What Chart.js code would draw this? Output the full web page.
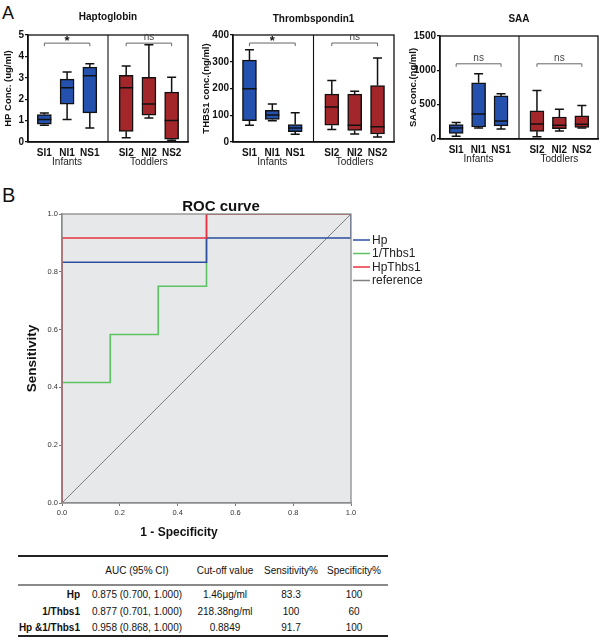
<!DOCTYPE html>
<html>
<head>
<meta charset="utf-8">
<script src="https://cdn.jsdelivr.net/npm/chart.js@4.4.1/dist/chart.umd.min.js"></script>
<style>
  body { margin: 0; background: #fff; font-family: "Liberation Sans", Arial, sans-serif; }
  #page { position: relative; width: 600px; height: 642px; overflow: hidden; }
  #page canvas { position: absolute; }
  .panel-letter { position: absolute; line-height: 1; color: #111; }
  #stats { position: absolute; left: 18px; top: 555px; width: 370px; border-collapse: collapse;
           table-layout: fixed; font-size: 10px; color: #111; border-top: 2px solid #222; border-bottom: 2px solid #222; }
  #stats th { font-weight: normal; height: 27px; padding: 0; text-align: center; border-bottom: 2px solid #8a8a8a; }
  #stats td { padding: 0; text-align: center; line-height: 1; }
  #stats td.rowname { text-align: right; padding-right: 6px; font-weight: bold; }
</style>
</head>
<body>
<div id="page">
  <div class="panel-letter" style="left:2px;top:4px;font-size:18px">A</div>
  <div class="panel-letter" style="left:2px;top:185px;font-size:20px">B</div>
  <canvas id="hp-chart" style="left:0;top:0"></canvas>
  <canvas id="thbs-chart" style="left:195px;top:0"></canvas>
  <canvas id="saa-chart" style="left:400px;top:0"></canvas>
  <canvas id="roc-chart" style="left:0;top:195px"></canvas>
  <table id="stats"></table>
</div>
<script>
// ---- panel A data: five-number summaries per group ----
const groups = ['SI1', 'NI1', 'NS1', 'SI2', 'NI2', 'NS2'];
const cohorts = ['Infants', 'Toddlers'];

const hpMin = [0.78, 1.05, 0.66, 0.20, 1.12, 0.08];
const hpQ1  = [0.83, 1.77, 1.36, 0.50, 1.25, 0.13];
const hpMed = [1.05, 2.53, 3.09, 2.53, 1.77, 1.00];
const hpQ3  = [1.28, 2.94, 3.50, 3.11, 3.02, 2.33];
const hpMax = [1.36, 3.27, 3.66, 3.55, 4.55, 3.03];
const hpSig = ['*', 'ns'];

const thbsMin = [63, 79, 29, 47, 30, 19];
const thbsQ1  = [80, 84, 39, 63, 43, 30];
const thbsMed = [199, 101, 52, 131, 63, 57];
const thbsQ3  = [306, 118, 65, 179, 179, 211];
const thbsMax = [345, 142, 109, 230, 190, 314];
const thbsSig = ['*', 'ns'];

const saaMin = [39, 161, 146, 34, 117, 161];
const saaQ1  = [83, 175, 190, 112, 151, 170];
const saaMed = [161, 365, 263, 219, 200, 214];
const saaQ3  = [209, 818, 628, 409, 321, 336];
const saaMax = [239, 950, 658, 706, 434, 487];
const saaSig = ['ns', 'ns'];

// ---- panel B data: ROC curves (1 - specificity, sensitivity) ----
const hpFpr = [0, 0, 0.5, 0.5, 1, 1];
const hpTpr = [0, 0.833, 0.833, 0.917, 0.917, 1];
const thbsFpr = [0, 0, 0.167, 0.167, 0.333, 0.333, 0.5, 0.5, 1];
const thbsTpr = [0, 0.417, 0.417, 0.583, 0.583, 0.75, 0.75, 1, 1];
const comboFpr = [0, 0, 0.5, 0.5, 1];
const comboTpr = [0, 0.917, 0.917, 1, 1];
const refFpr = [0, 1];
const refTpr = [0, 1];
const rocTicks = [0, 0.2, 0.4, 0.6, 0.8, 1.0];

// ---- table ----
const statRows = ['Hp', '1/Thbs1', 'Hp &1/Thbs1'];
const statHeaders = ['', 'AUC (95% CI)', 'Cut-off value', 'Sensitivity%', 'Specificity%'];
const aucText = ['0.875 (0.700, 1.000)', '0.877 (0.701, 1.000)', '0.958 (0.868, 1.000)'];
const cutoffText = ['1.46μg/ml', '218.38ng/ml', '0.8849'];
const sensText = ['83.3', '100', '91.7'];
const specText = ['100', '60', '100'];

Chart.defaults.font.family = '"Liberation Sans", Arial, sans-serif';
Chart.defaults.color = '#111';
Chart.defaults.animation = false;

const BLUE = '#2451ad';
const RED = '#a3262b';
const slotPos = [0, 1, 2, 3.6, 4.6, 5.6];
const dividerPos = 2.8;

// whiskers, medians, frame, divider, brackets, titles for the box plots
const boxExtras = {
    id: 'boxExtras',
    afterDatasetsDraw(chart, args, o) {
        const { ctx, chartArea: a, scales: { x, y } } = chart;
        ctx.save();
        ctx.strokeStyle = '#111';
        ctx.lineWidth = 1.5;
        o.min.forEach((lo, i) => {
            const cx = x.getPixelForValue(slotPos[i]);
            const yMin = y.getPixelForValue(lo), yMax = y.getPixelForValue(o.max[i]);
            const yQ1 = y.getPixelForValue(o.q1[i]), yQ3 = y.getPixelForValue(o.q3[i]);
            const yMed = y.getPixelForValue(o.med[i]);
            ctx.beginPath();
            ctx.moveTo(cx, yQ3); ctx.lineTo(cx, yMax);
            ctx.moveTo(cx - 4.5, yMax); ctx.lineTo(cx + 4.5, yMax);
            ctx.moveTo(cx, yQ1); ctx.lineTo(cx, yMin);
            ctx.moveTo(cx - 4.5, yMin); ctx.lineTo(cx + 4.5, yMin);
            ctx.moveTo(cx - 7, yMed); ctx.lineTo(cx + 7, yMed);
            ctx.stroke();
        });
        // frame and group divider
        ctx.lineWidth = 1.3;
        ctx.strokeRect(a.left, a.top, a.right - a.left, a.bottom - a.top);
        const dx = x.getPixelForValue(dividerPos);
        ctx.lineWidth = 1.1;
        ctx.beginPath(); ctx.moveTo(dx, a.top); ctx.lineTo(dx, a.bottom); ctx.stroke();

        // significance brackets
        const by = y.getPixelForValue(o.bracket);
        ctx.strokeStyle = '#666';
        ctx.lineWidth = 1;
        ctx.textAlign = 'center';
        ctx.textBaseline = 'bottom';
        [0, 3].forEach((start, g) => {
            const x0 = x.getPixelForValue(slotPos[start]);
            const x1 = x.getPixelForValue(slotPos[start + 2]);
            ctx.beginPath();
            ctx.moveTo(x0, by + 3); ctx.lineTo(x0, by); ctx.lineTo(x1, by); ctx.lineTo(x1, by + 3);
            ctx.stroke();
            const s = o.sig[g];
            ctx.fillStyle = s === '*' ? '#111' : '#444';
            ctx.font = s === '*' ? 'bold 13px "Liberation Sans", Arial' : '10px "Liberation Sans", Arial';
            ctx.fillText(s, (x0 + x1) / 2, s === '*' ? by + 5 : by - 0.5);
        });

        // cohort labels under the categories
        ctx.fillStyle = '#222';
        ctx.font = '10px "Liberation Sans", Arial';
        ctx.textBaseline = 'middle';
        cohorts.forEach((c, g) => ctx.fillText(c, x.getPixelForValue(slotPos[g * 3 + 1]), a.bottom + o.cohortGap));

        // chart title
        ctx.fillStyle = '#111';
        ctx.font = 'bold 10px "Liberation Sans", Arial';
        ctx.fillText(o.title, (a.left + a.right) / 2, a.top - o.titleGap);
        ctx.restore();
    }
};

function makeBoxChart(id, c) {
    const el = document.getElementById(id);
    el.width = c.w; el.height = c.h;
    return new Chart(el, {
        type: 'bar',
        data: {
            datasets: [{
                data: groups.map((g, i) => ({ x: slotPos[i], y: [c.q1[i], c.q3[i]] })),
                backgroundColor: groups.map((g, i) => i < 3 ? BLUE : RED),
                borderColor: '#111',
                borderWidth: 1.5,
                borderSkipped: false,
                barThickness: 14
            }]
        },
        options: {
            responsive: false,
            layout: { padding: { left: 0, top: c.top, right: c.right, bottom: 0 } },
            plugins: {
                legend: { display: false },
                tooltip: { enabled: false },
                boxExtras: {
                    min: c.min, q1: c.q1, med: c.med, q3: c.q3, max: c.max,
                    sig: c.sig, bracket: c.bracket, title: c.title,
                    titleGap: c.titleGap, cohortGap: 20
                }
            },
            scales: {
                x: {
                    type: 'linear', min: -0.72, max: 6.32, offset: false,
                    afterBuildTicks: s => { s.ticks = slotPos.map(v => ({ value: v })); },
                    afterFit: s => { s.height = c.h - c.bottom; },
                    grid: { display: false, drawTicks: false },
                    border: { display: true, color: '#111', width: 1.5 },
                    ticks: {
                        autoSkip: false, maxRotation: 0, padding: 5,
                        font: { size: 10, weight: 'bold' },
                        callback: (v, i) => groups[i]
                    }
                },
                y: {
                    min: 0, max: c.yMax,
                    afterFit: s => { s.width = c.left; },
                    grid: { drawOnChartArea: false, color: '#111', tickLength: 3, lineWidth: 1.3 },
                    border: { display: true, color: '#111', width: 1.5 },
                    ticks: { stepSize: c.yStep, padding: 1, font: { size: 10, weight: 'bold' }, callback: v => String(v) },
                    title: {
                        display: true, text: c.yTitle, padding: { top: c.yTitlePad, bottom: 0 },
                        font: { size: 9.5, weight: 'bold' }
                    }
                }
            }
        },
        plugins: [boxExtras]
    });
}

makeBoxChart('hp-chart', {
    w: 200, h: 175, left: 28, top: 35, right: 12, bottom: 142,
    min: hpMin, q1: hpQ1, med: hpMed, q3: hpQ3, max: hpMax, sig: hpSig,
    bracket: 4.62, yMax: 5, yStep: 1, title: 'Haptoglobin', titleGap: 18,
    yTitle: 'HP Conc. (ug/ml)', yTitlePad: 2.5
});
makeBoxChart('thbs-chart', {
    w: 205, h: 175, left: 38, top: 35, right: 6, bottom: 142,
    min: thbsMin, q1: thbsQ1, med: thbsMed, q3: thbsQ3, max: thbsMax, sig: thbsSig,
    bracket: 370, yMax: 400, yStep: 100, title: 'Thrombspondin1', titleGap: 16,
    yTitle: 'THBS1 conc.(ng/ml)', yTitlePad: 6
});
makeBoxChart('saa-chart', {
    w: 200, h: 175, left: 40, top: 36, right: 2, bottom: 139,
    min: saaMin, q1: saaQ1, med: saaMed, q3: saaQ3, max: saaMax, sig: saaSig,
    bracket: 1095, yMax: 1500, yStep: 500, title: 'SAA', titleGap: 16.5,
    yTitle: 'SAA conc.(ng/ml)', yTitlePad: 7.5
});

// ---- ROC panel ----
const rocDecor = {
    id: 'rocDecor',
    beforeDraw(chart) {
        const { ctx, chartArea: a } = chart;
        ctx.save();
        ctx.fillStyle = '#e7e8ea';
        ctx.fillRect(a.left, a.top, a.right - a.left, a.bottom - a.top);
        ctx.restore();
    },
    afterDraw(chart, args, o) {
        const { ctx, chartArea: a } = chart;
        ctx.save();
        ctx.strokeStyle = '#8c8c8c';
        ctx.lineWidth = 1.3;
        ctx.strokeRect(a.left, a.top, a.right - a.left, a.bottom - a.top);

        ctx.fillStyle = '#111';
        ctx.textAlign = 'center';
        ctx.textBaseline = 'middle';
        ctx.font = 'bold 15px "Liberation Sans", Arial';
        ctx.fillText(o.title, chart.width / 2, a.top - 7.5);
        ctx.font = 'bold 12px "Liberation Sans", Arial';
        ctx.fillText(o.xTitle, o.xTitleX, a.bottom + 30);

        // legend
        ctx.font = '12px "Liberation Sans", Arial';
        ctx.textAlign = 'left';
        chart.data.datasets.forEach((ds, i) => {
            const ly = a.top + 26 + i * 13.5;
            ctx.strokeStyle = ds.borderColor;
            ctx.lineWidth = 1.5;
            ctx.beginPath(); ctx.moveTo(a.right + 2, ly); ctx.lineTo(a.right + 19, ly); ctx.stroke();
            ctx.fillStyle = '#222';
            ctx.fillText(ds.label, a.right + 21, ly + 0.5);
        });
        ctx.restore();
    }
};

const toPoints = (xs, ys) => xs.map((v, i) => ({ x: v, y: ys[i] }));
const rocEl = document.getElementById('roc-chart');
rocEl.width = 442; rocEl.height = 345;
new Chart(rocEl, {
    type: 'line',
    data: {
        datasets: [
            { label: 'Hp', data: toPoints(hpFpr, hpTpr), borderColor: '#2b4f9e', order: 1 },
            { label: '1/Thbs1', data: toPoints(thbsFpr, thbsTpr), borderColor: '#5cc262', order: 2 },
            { label: 'HpThbs1', data: toPoints(comboFpr, comboTpr), borderColor: '#e8323e', order: 0 },
            { label: 'reference', data: toPoints(refFpr, refTpr), borderColor: '#808080', borderWidth: 1, order: 3 }
        ]
    },
    options: {
        responsive: false,
        elements: { point: { radius: 0 }, line: { borderWidth: 1.6, tension: 0 } },
        layout: { padding: { left: 0, top: 19, right: 91, bottom: 0 } },
        plugins: {
            legend: { display: false },
            tooltip: { enabled: false },
            rocDecor: { title: 'ROC curve', xTitle: '1 - Specificity', xTitleX: 179 }
        },
        scales: {
            x: {
                type: 'linear', min: 0, max: 1,
                afterBuildTicks: s => { s.ticks = rocTicks.map(v => ({ value: v })); },
                afterFit: s => { s.height = 37; },
                grid: { drawOnChartArea: false, color: '#777', tickLength: 3 },
                border: { display: true, color: '#8c8c8c', width: 1.3 },
                ticks: { padding: 2, color: '#333', font: { size: 7.5 }, callback: v => v.toFixed(1) }
            },
            y: {
                min: 0, max: 1,
                afterBuildTicks: s => { s.ticks = rocTicks.map(v => ({ value: v })); },
                afterFit: s => { s.width = 62; },
                grid: { drawOnChartArea: false, color: '#777', tickLength: 3 },
                border: { display: true, color: '#8c8c8c', width: 1.3 },
                ticks: { padding: 1, color: '#333', font: { size: 7.5 }, callback: v => v.toFixed(1) },
                title: {
                    display: true, text: 'Sensitivity', color: '#111',
                    padding: { top: 24, bottom: 0 }, font: { size: 13.5, weight: 'bold' }
                }
            }
        }
    },
    plugins: [rocDecor]
});

// ---- table ----
const table = document.getElementById('stats');
const widths = [68, 102, 74, 58, 68];
table.innerHTML =
    '<colgroup>' + widths.map(w => `<col style="width:${w}px">`).join('') + '</colgroup>' +
    '<thead><tr>' + statHeaders.map(h => `<th>${h}</th>`).join('') + '</tr></thead>' +
    '<tbody>' + statRows.map((r, i) => `
        <tr style="height:${[18, 18, 15][i]}px">
            <td class="rowname">${r}</td><td>${aucText[i]}</td><td>${cutoffText[i]}</td>
            <td>${sensText[i]}</td><td>${specText[i]}</td>
        </tr>`).join('') + '</tbody>';
</script>
</body>
</html>
